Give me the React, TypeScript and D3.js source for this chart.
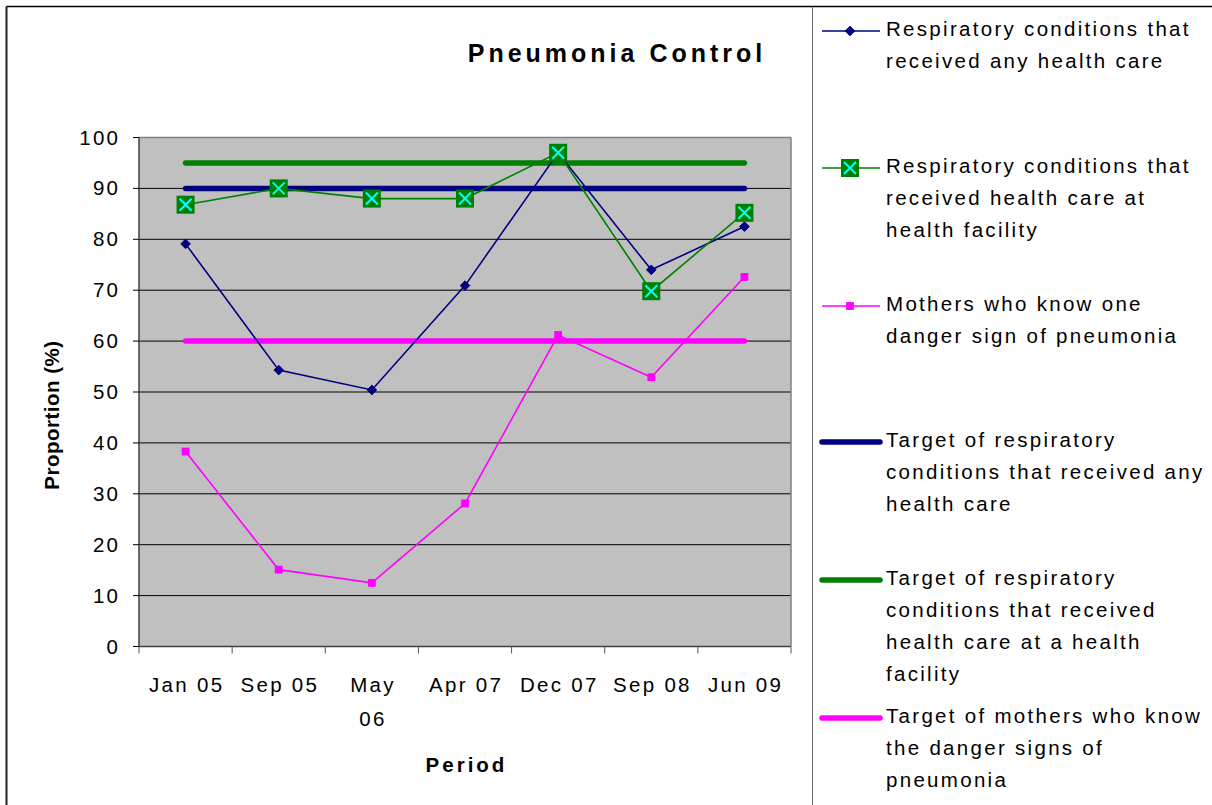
import React from "react";
import * as d3 from "d3";

const categories = ["Jan 05", "Sep 05", "May 06", "Apr 07", "Dec 07", "Sep 08", "Jun 09"];
const anyCare = [79.1, 54.3, 50.4, 70.9, 97.0, 74.0, 82.5];
const facilityCare = [86.8, 90.0, 88.0, 88.0, 97.0, 69.8, 85.2];
const mothersKnow = [38.3, 15.1, 12.5, 28.1, 61.2, 52.9, 72.6];
const targetAnyCare = [90, 90, 90, 90, 90, 90, 90];
const targetFacility = [95, 95, 95, 95, 95, 95, 95];
const targetMothers = [60, 60, 60, 60, 60, 60, 60];
const yTicks = [0, 10, 20, 30, 40, 50, 60, 70, 80, 90, 100];

const legendItems = [
  { lines: ["Respiratory conditions that", "received any health care"], color: "#000080", kind: "diamond", width: 1.5, y: 31 },
  { lines: ["Respiratory conditions that", "received health care at", "health facility"], color: "#008000", kind: "xsquare", width: 1.5, y: 168 },
  { lines: ["Mothers who know one", "danger sign of pneumonia"], color: "#FF00FF", kind: "square", width: 1.5, y: 306 },
  { lines: ["Target of respiratory", "conditions that received any", "health care"], color: "#000080", kind: "none", width: 5.5, y: 442 },
  { lines: ["Target of respiratory", "conditions that received", "health care at a health", "facility"], color: "#008000", kind: "none", width: 5.5, y: 580 },
  { lines: ["Target of mothers who know", "the danger signs of", "pneumonia"], color: "#FF00FF", kind: "none", width: 5.5, y: 718 },
];

const FONT = "'Liberation Sans', Arial, sans-serif";
const LS = 2.3;

function Marker({ kind, x, y, color }: { kind: string; x: number; y: number; color: string }) {
  if (kind === "diamond") {
    const s = 4.8;
    return <path d={`M${x},${y - s}L${x + s},${y}L${x},${y + s}L${x - s},${y}Z`} fill={color} stroke={color} strokeWidth={1} />;
  }
  if (kind === "xsquare") {
    const s = 9;
    const k = 6;
    return (
      <g>
        <rect x={x - s} y={y - s} width={2 * s} height={2 * s} fill="#008000" />
        <path d={`M${x - k},${y - k}L${x + k},${y + k}M${x - k},${y + k}L${x + k},${y - k}`} stroke="#00FFFF" strokeWidth={2} />
      </g>
    );
  }
  if (kind === "square") {
    const s = 3.9;
    return <rect x={x - s} y={y - s} width={2 * s} height={2 * s} fill={color} />;
  }
  return null;
}

export default function App() {
  const left = 139, right = 791, top = 137.5, bottom = 646.5;
  const x = d3.scaleBand<string>().domain(categories).range([left, right]).padding(0);
  const y = d3.scaleLinear().domain([0, 100]).range([bottom, top]);
  const cx = (c: string) => (x(c) as number) + x.bandwidth() / 2;
  const line = d3.line<number>().x((_, i) => cx(categories[i])).y((d) => y(d));

  const series = [
    { data: anyCare, color: "#000080", kind: "diamond" },
    { data: facilityCare, color: "#008000", kind: "xsquare" },
    { data: mothersKnow, color: "#FF00FF", kind: "square" },
  ];
  const targets = [
    { data: targetAnyCare, color: "#000080" },
    { data: targetFacility, color: "#008000" },
    { data: targetMothers, color: "#FF00FF" },
  ];
  const boundaries = d3.range(categories.length + 1).map((i) => left + i * x.bandwidth());

  return (
    <svg width={1212} height={805} style={{ position: "absolute", left: 0, top: 0, background: "#fff" }} fontFamily={FONT}>
      <rect x={0} y={0} width={1212} height={805} fill="#fff" />
      {/* outer border */}
      <line x1={6.5} y1={6.5} x2={1212} y2={6.5} stroke="#000" strokeWidth={1.5} />
      <line x1={6.5} y1={6.5} x2={6.5} y2={805} stroke="#222" strokeWidth={2} />
      <line x1={812.5} y1={6.5} x2={812.5} y2={805} stroke="#666" strokeWidth={1} />

      {/* title */}
      <text x={615 + 2} y={62} textAnchor="middle" fontSize={25} fontWeight="bold" letterSpacing={4}>Pneumonia Control</text>

      {/* plot area */}
      <rect x={left} y={top} width={right - left} height={bottom - top} fill="#C0C0C0" />
      {yTicks.filter((t) => t > 0 && t < 100).map((t) => (
        <line key={t} x1={left} x2={right} y1={y(t)} y2={y(t)} stroke="#000" strokeWidth={1} />
      ))}
      <line x1={left} x2={right} y1={top} y2={top} stroke="#808080" strokeWidth={1.5} />
      <line x1={right} x2={right} y1={top} y2={bottom} stroke="#808080" strokeWidth={1.5} />
      <line x1={left} x2={left} y1={top} y2={bottom} stroke="#404040" strokeWidth={1.5} />
      <line x1={left} x2={right} y1={bottom} y2={bottom} stroke="#404040" strokeWidth={1.5} />

      {/* y axis */}
      {yTicks.map((t) => (
        <g key={t}>
          <line x1={left - 6} x2={left} y1={y(t)} y2={y(t)} stroke="#000" strokeWidth={1} />
          <text x={118 + LS} y={y(t) + 7} textAnchor="end" fontSize={20.5} letterSpacing={LS}>{t}</text>
        </g>
      ))}
      <text transform={`translate(59,415) rotate(-90)`} textAnchor="middle" fontSize={20.5} fontWeight="bold" letterSpacing={0.5}>Proportion (%)</text>

      {/* x axis */}
      {boundaries.map((b, i) => (
        <line key={i} x1={b} x2={b} y1={bottom} y2={bottom + 7} stroke="#555" strokeWidth={1} />
      ))}
      {categories.map((c) => {
        const parts = c === "May 06" ? ["May", "06"] : [c];
        return (
          <text key={c} x={cx(c)} y={692} textAnchor="middle" fontSize={20.5} letterSpacing={LS}>
            {parts.map((p, i) => (
              <tspan key={i} x={cx(c) + LS / 2} dy={i === 0 ? 0 : 34}>{p}</tspan>
            ))}
          </text>
        );
      })}
      <text x={465 + 1.5} y={772} textAnchor="middle" fontSize={20.5} fontWeight="bold" letterSpacing={3}>Period</text>

      {/* target lines */}
      {targets.map((t, i) => (
        <path key={i} d={line(t.data) as string} fill="none" stroke={t.color} strokeWidth={5.5} strokeLinecap="round" />
      ))}
      {/* data lines */}
      {series.map((s, i) => (
        <path key={i} d={line(s.data) as string} fill="none" stroke={s.color} strokeWidth={1.6} />
      ))}
      {series.map((s, i) => (
        <g key={i}>
          {s.data.map((v, j) => (
            <Marker key={j} kind={s.kind} x={cx(categories[j])} y={y(v)} color={s.color} />
          ))}
        </g>
      ))}

      {/* legend */}
      {legendItems.map((item, i) => (
        <g key={i}>
          <line x1={822} x2={880} y1={item.y} y2={item.y} stroke={item.color} strokeWidth={item.width} strokeLinecap={item.kind === "none" ? "round" : "butt"} />
          <Marker kind={item.kind} x={850} y={item.y} color={item.color} />
          {item.lines.map((l, k) => (
            <text key={k} x={886} y={item.y - 2 + k * 32 + 7} fontSize={20.5} letterSpacing={LS}>{l}</text>
          ))}
        </g>
      ))}
    </svg>
  );
}
